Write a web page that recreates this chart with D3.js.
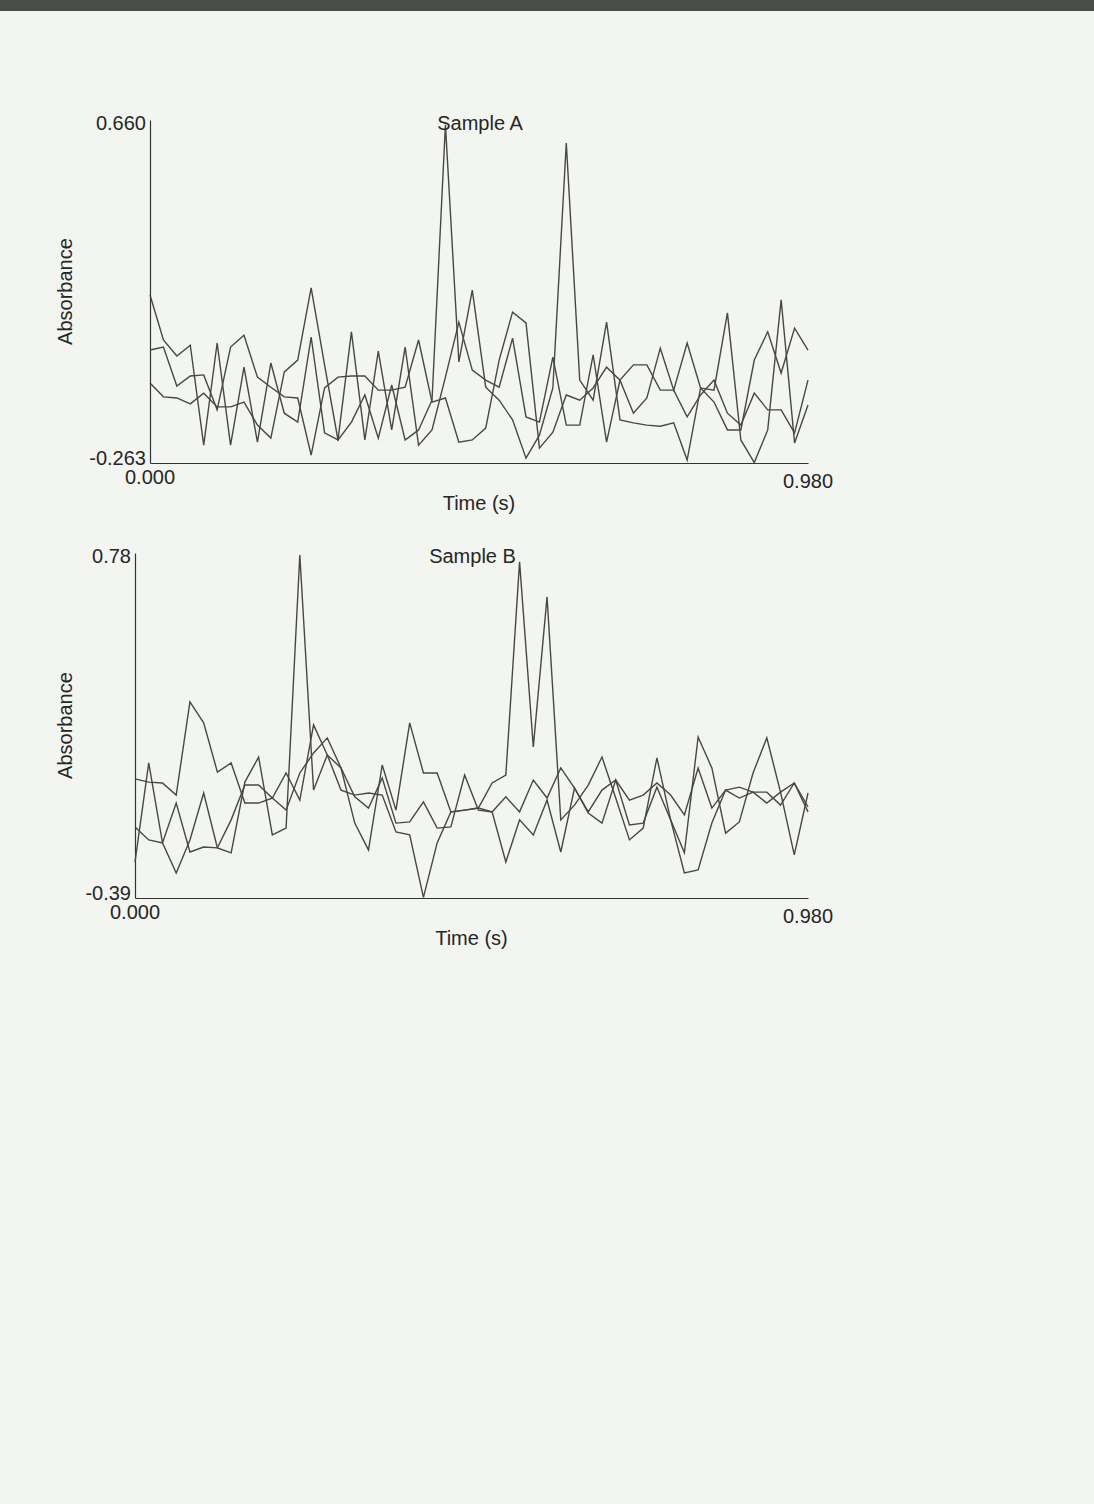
<!DOCTYPE html>
<html>
<head>
<meta charset="utf-8">
<script src="https://cdn.jsdelivr.net/npm/d3@7"></script>
<style>
  body { margin: 0; background: #f3f5f1; }
  svg { display: block; }
</style>
</head>
<body>
<div id="page"></div>
<script>
// Sampling times (s), 0.02 s apart
const times = [0.00, 0.02, 0.04, 0.06, 0.08, 0.10, 0.12, 0.14, 0.16, 0.18,
               0.20, 0.22, 0.24, 0.26, 0.28, 0.30, 0.32, 0.34, 0.36, 0.38,
               0.40, 0.42, 0.44, 0.46, 0.48, 0.50, 0.52, 0.54, 0.56, 0.58,
               0.60, 0.62, 0.64, 0.66, 0.68, 0.70, 0.72, 0.74, 0.76, 0.78,
               0.80, 0.82, 0.84, 0.86, 0.88, 0.90, 0.92, 0.94, 0.96, 0.98];

// Sample A - three traces (absorbance)
const sampleA1 = [0.189, 0.068, 0.025, 0.054, -0.215, 0.060, -0.215, -0.005, -0.207, 0.006,
                  -0.129, -0.153, 0.076, -0.182, -0.201, 0.090, -0.201, 0.038, -0.174, 0.049,
                  -0.215, -0.174, -0.032, 0.116, -0.013, -0.040, -0.059, 0.073, -0.139, -0.153,
                  0.022, -0.161, -0.161, 0.028, -0.207, -0.040, 0.001, 0.001, -0.067, -0.067,
                  -0.139, -0.080, -0.040, -0.129, -0.161, -0.075, -0.120, -0.120, -0.182, -0.040];
const sampleA2 = [0.041, 0.049, -0.056, -0.029, -0.026, -0.120, 0.049, 0.081, -0.032, -0.059,
                  -0.085, -0.088, -0.242, -0.061, -0.032, -0.029, -0.029, -0.067, -0.067, -0.059,
                  0.068, -0.099, -0.088, -0.207, -0.201, -0.169, 0.014, 0.143, 0.114, -0.223,
                  -0.180, -0.080, -0.094, -0.061, -0.005, -0.040, -0.129, -0.088, 0.046, -0.067,
                  0.060, -0.061, -0.099, -0.174, -0.174, 0.014, 0.090, -0.021, 0.100, 0.041];
const sampleA3 = [-0.048, -0.085, -0.088, -0.104, -0.075, -0.112, -0.112, -0.099, -0.161, -0.196,
                  -0.018, 0.014, 0.208, 0.001, -0.201, -0.153, -0.080, -0.196, -0.053, -0.201,
                  -0.174, -0.094, 0.647, 0.009, 0.202, -0.059, -0.094, -0.147, -0.250, -0.188,
                  -0.061, 0.598, -0.040, -0.094, 0.116, -0.147, -0.155, -0.161, -0.164, -0.155,
                  -0.255, -0.061, -0.067, 0.141, -0.201, -0.262, -0.174, 0.176, -0.209, -0.107];

// Sample B - three traces (absorbance)
const sampleB1 = [-0.268, 0.068, -0.203, -0.305, -0.193, -0.034, -0.220, -0.237, 0.003, 0.088,
                  -0.176, -0.153, 0.773, -0.024, 0.095, 0.051, -0.136, -0.227, 0.061, -0.092,
                  0.204, 0.034, 0.034, -0.098, -0.092, -0.085, 0.000, 0.027, 0.750, 0.122,
                  0.631, -0.125, -0.075, -0.007, 0.088, -0.051, -0.193, -0.153, 0.085, -0.125,
                  -0.237, 0.156, 0.051, -0.170, -0.132, 0.034, 0.153, -0.031, -0.244, -0.034];
const sampleB2 = [0.014, 0.003, 0.000, -0.041, 0.275, 0.204, 0.037, 0.068, -0.068, -0.068,
                  -0.051, -0.092, 0.034, 0.102, 0.153, 0.051, -0.047, -0.085, 0.017, -0.136,
                  -0.132, -0.064, -0.153, -0.149, 0.027, -0.092, -0.098, -0.047, -0.098, 0.010,
                  -0.051, 0.051, -0.017, -0.098, -0.024, 0.010, -0.058, -0.041, 0.000, -0.041,
                  -0.108, 0.051, -0.085, -0.024, -0.014, -0.031, -0.031, -0.075, 0.000, -0.081];
const sampleB3 = [-0.149, -0.193, -0.203, -0.068, -0.234, -0.217, -0.220, -0.125, -0.007, -0.007,
                  -0.051, 0.034, -0.058, 0.197, 0.095, -0.024, -0.041, -0.034, -0.041, -0.166,
                  -0.176, -0.388, -0.203, -0.098, -0.092, -0.085, -0.098, -0.268, -0.125, -0.176,
                  -0.058, -0.234, -0.017, -0.102, -0.136, 0.010, -0.142, -0.136, -0.014, -0.125,
                  -0.305, -0.295, -0.136, -0.024, -0.051, -0.031, -0.068, -0.031, 0.000, -0.098];

// Axis ranges and tick labels
const xDomain = [0, 0.98];
const xTickLabels = ["0.000", "0.980"];
const yDomainA = [-0.263, 0.660];
const yTickLabelsA = ["-0.263", "0.660"];
const yDomainB = [-0.39, 0.78];
const yTickLabelsB = ["-0.39", "0.78"];
const titles = ["Sample A", "Sample B"];

const W = 1094, H = 1504;
const font = "'Liberation Sans', Arial, sans-serif";

const svg = d3.select("#page").append("svg")
    .attr("width", W)
    .attr("height", H);

svg.append("rect").attr("width", W).attr("height", H).attr("fill", "#f3f5f1");
// dark edge of the scanner lid
svg.append("rect").attr("width", W).attr("height", 11).attr("fill", "#4b4d4b");

function drawPanel(box, yDomain, yLabels, traces, title) {
    const x = d3.scaleLinear().domain(xDomain).range([box.left, box.right]);
    const y = d3.scaleLinear().domain(yDomain).range([box.bottom, box.top]);

    const g = svg.append("g");

    // axis lines only, labels placed by hand below
    g.append("g")
        .attr("transform", `translate(${box.left},0)`)
        .call(d3.axisLeft(y).tickValues([]).tickSizeOuter(0));
    g.append("g")
        .attr("transform", `translate(0,${box.bottom})`)
        .call(d3.axisBottom(x).tickValues([]).tickSizeOuter(0));
    g.selectAll(".domain").attr("stroke", "#333").attr("stroke-width", 1.2);

    const line = d3.line()
        .x((d, i) => x(times[i]))
        .y(d => y(d));

    traces.forEach(t => {
        g.append("path")
            .datum(t)
            .attr("fill", "none")
            .attr("stroke", "#474747")
            .attr("stroke-width", 1.4)
            .attr("d", line);
    });

    const txt = (sel) => sel.attr("font-family", font).attr("font-size", 20).attr("fill", "#262626");

    // y tick labels
    g.append("text").call(txt)
        .attr("x", box.left - 4).attr("y", y(yDomain[1]) + 10)
        .attr("text-anchor", "end").text(yLabels[1]);
    g.append("text").call(txt)
        .attr("x", box.left - 4).attr("y", y(yDomain[0]) + 2)
        .attr("text-anchor", "end").text(yLabels[0]);

    // x tick labels
    g.append("text").call(txt)
        .attr("x", x(xDomain[0])).attr("y", box.bottom + 21)
        .attr("text-anchor", "middle").text(xTickLabels[0]);
    g.append("text").call(txt)
        .attr("x", x(xDomain[1])).attr("y", box.bottom + 25)
        .attr("text-anchor", "middle").text(xTickLabels[1]);

    // axis titles
    g.append("text").call(txt)
        .attr("x", (box.left + box.right) / 2).attr("y", box.bottom + 47)
        .attr("text-anchor", "middle").text("Time (s)");
    g.append("text").call(txt)
        .attr("transform", `translate(72,${(box.top + box.bottom) / 2}) rotate(-90)`)
        .attr("text-anchor", "middle").text("Absorbance");

    // panel title
    g.append("text").call(txt)
        .attr("x", (box.left + box.right) / 2 + 1).attr("y", box.top + 10)
        .attr("text-anchor", "middle").text(title);
}

drawPanel({ left: 150, right: 808, top: 120, bottom: 463 }, yDomainA, yTickLabelsA,
          [sampleA1, sampleA2, sampleA3], titles[0]);
drawPanel({ left: 135, right: 808, top: 553, bottom: 898 }, yDomainB, yTickLabelsB,
          [sampleB1, sampleB2, sampleB3], titles[1]);
</script>
</body>
</html>
